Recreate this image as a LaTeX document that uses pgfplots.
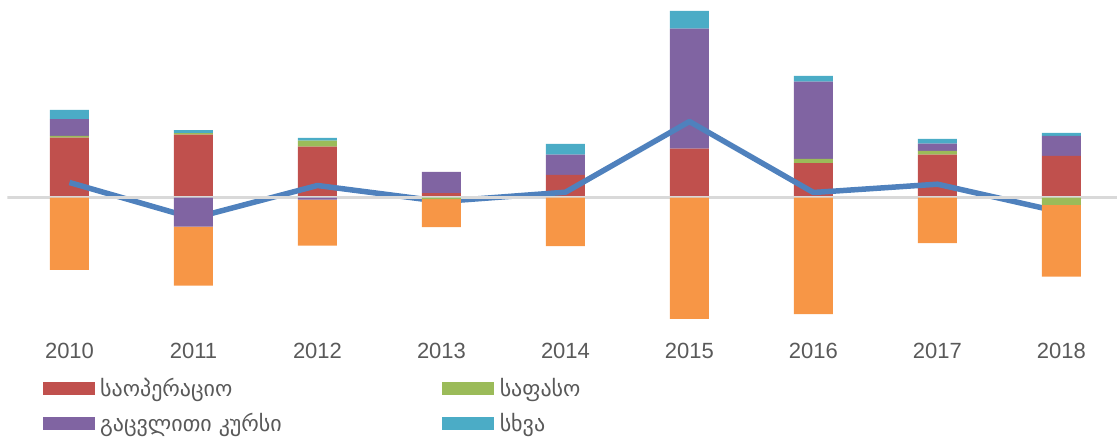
\documentclass[border=0pt]{standalone}
\usepackage{pgfplots}
\pgfplotsset{compat=1.18}
\usepackage{pgfplotstable}
\usepackage{fontspec}
\setmainfont{Liberation Sans}
\newfontfamily\geo{DejaVu Sans}
\definecolor{cred}{HTML}{C0504D}
\definecolor{cgreen}{HTML}{9BBB59}
\definecolor{cpurple}{HTML}{8064A2}
\definecolor{cteal}{HTML}{4BACC6}
\definecolor{corange}{HTML}{F79646}
\definecolor{cline}{HTML}{4F81BD}
\definecolor{ctext}{HTML}{595959}
\definecolor{czero}{HTML}{D9D9D9}

% x: 0=2010 ... 8=2018
\pgfplotstableread{
x redp greenp purplep tealp greenn purplen orange net
0 60.0 1.7 16.7 9.3 0 0 -72.3 15.0
1 63.0 1.3 0 3.0 0 -29.0 -59.0 -20.7
2 51.0 6.0 0 2.7 0 -2.0 -46.0 12.0
3 4.3 0 21.3 0 -1.5 0 -28.2 -4.0
4 22.7 0 20.3 10.7 0 0 -48.7 5.3
5 49.0 0 120.0 17.7 0 0 -121.3 76.0
6 34.3 4.3 77.3 5.7 0 0 -116.7 5.0
7 43.0 3.7 7.3 4.7 0 0 -45.7 13.3
8 41.7 0 20.0 3.0 -7.3 0 -71.7 -14.7
}\datatable

\pgfplotsset{
  base/.style={
    at={(7.5pt,112.5pt)}, anchor=south west,
    scale only axis, width=1109.5pt, height=322pt,
    xmin=-0.5, xmax=8.448, ymin=-130, ymax=192,
    axis line style={draw=none}, major tick length=0pt,
    ytick=\empty,
    ybar stacked, bar width=39pt,
  },
}

\begin{document}
\begin{tikzpicture}
\path[use as bounding box] (0,0) rectangle (1117pt,440pt);
\begin{axis}[base,
  xtick={0,...,8},
  xticklabels={2010,2011,2012,2013,2014,2015,2016,2017,2018},
  xticklabel style={anchor=base, yshift=-30.8pt, font=\fontsize{22}{26}\selectfont, text=ctext},
  legend columns=2,
  legend cell align=left,
  legend image code/.code={\fill[#1] (0pt,-6.5pt) rectangle (52pt,6.5pt);},
  legend style={at={(axis description cs:0.0317,-0.157)}, anchor=north west,
    draw=none, fill=none, inner sep=0pt, column sep=0pt, row sep=15.5pt,
    font=\fontsize{22}{26}\selectfont\geo, text=ctext,
    nodes={inner sep=0pt},
    /tikz/every odd column/.style={column sep=5.3pt}},
]
\addplot[fill=cred, draw=none] table[x=x, y=redp] {\datatable};
\addlegendentry{\makebox[342.3pt][l]{საოპერაციო}}
\addplot[fill=cgreen, draw=none] table[x=x, y=greenp] {\datatable};
\addlegendentry{საფასო}
\addplot[fill=cpurple, draw=none] table[x=x, y=purplep] {\datatable};
\addlegendentry{\makebox[342.3pt][l]{გაცვლითი კურსი}}
\addplot[fill=cteal, draw=none] table[x=x, y=tealp] {\datatable};
\addlegendentry{სხვა}
\end{axis}
\begin{axis}[base, xtick=\empty]
\addplot[fill=cgreen, draw=none] table[x=x, y=greenn] {\datatable};
\addplot[fill=cpurple, draw=none] table[x=x, y=purplen] {\datatable};
\addplot[fill=corange, draw=none] table[x=x, y=orange] {\datatable};
\draw[czero, line width=2.2pt] (axis cs:-0.5,0) -- (axis cs:8.448,0);
\addplot[ybar=false, stack plots=false, sharp plot, color=cline, line width=5.5pt, mark=none, line join=round] table[x=x, y=net] {\datatable};
\end{axis}
\end{tikzpicture}
\end{document}
